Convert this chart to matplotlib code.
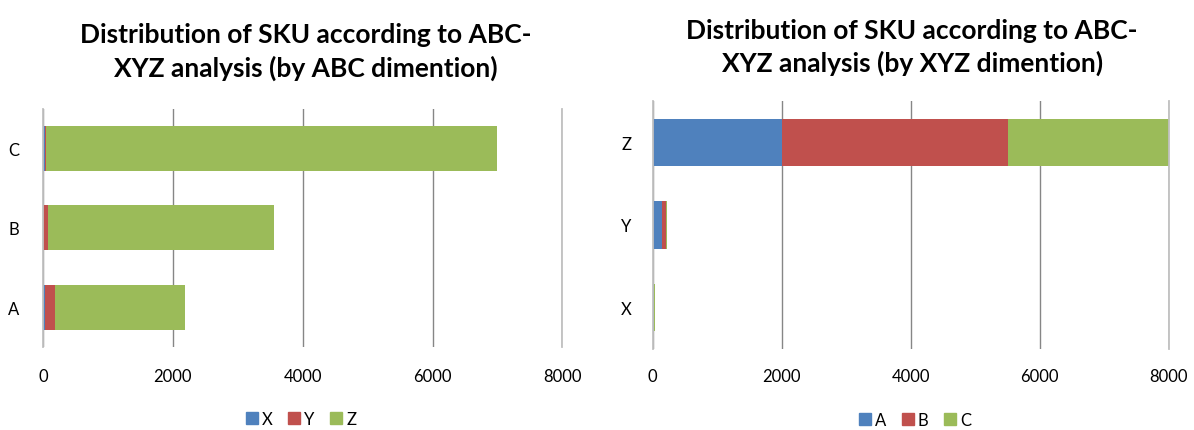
import matplotlib
matplotlib.use("Agg")
import matplotlib.pyplot as plt
from matplotlib.lines import Line2D

plt.rcParams["font.family"] = ["Lato", "DejaVu Sans"]

# SKU counts grouped by ABC class, split by XYZ class
abc_classes = ["A", "B", "C"]
abc_x = [30, 5, 35]
abc_y = [150, 70, 15]
abc_z = [2010, 3485, 6950]

# SKU counts grouped by XYZ class, split by ABC class
xyz_classes = ["X", "Y", "Z"]
xyz_a = [25, 150, 2010]
xyz_b = [0, 62, 3500]
xyz_c = [15, 15, 2510]

x_ticks = [0, 2000, 4000, 6000, 8000]

BLUE = "#4F81BD"
RED = "#C0504D"
GREEN = "#9BBB59"
COLORS = [BLUE, RED, GREEN]

fig = plt.figure(figsize=(11.94, 4.31), dpi=100)


def stacked_barh(ax, cats, series, bar_h):
    left = [0] * len(cats)
    for vals, col in zip(series, COLORS):
        ax.barh(cats, vals, left=left, height=bar_h, color=col,
                linewidth=0, zorder=3)
        left = [l + v for l, v in zip(left, vals)]
    ax.set_xlim(0, 8000)
    ax.set_ylim(-0.5, len(cats) - 0.5)
    ax.set_xticks(x_ticks)
    ax.set_xticklabels([str(t) for t in x_ticks])
    ax.grid(axis="x", color="#868686", linewidth=1.0)
    ax.grid(axis="y", visible=False)
    ax.set_axisbelow(True)
    for s in ["top", "bottom"]:
        ax.spines[s].set_visible(False)
    for s in ["left", "right"]:
        ax.spines[s].set_color("#C0C0C0")
        ax.spines[s].set_linewidth(1.3)
        ax.spines[s].set_zorder(4)
    ax.tick_params(length=0, labelsize=12, colors="#000000")


ax1 = fig.add_axes([0.036, 0.193, 0.435, 0.552])
stacked_barh(ax1, abc_classes, [abc_x, abc_y, abc_z], 0.565)
ax1.tick_params(axis="y", pad=17)
ax1.tick_params(axis="x", pad=15)

ax2 = fig.add_axes([0.5466, 0.188, 0.4324, 0.5754])
stacked_barh(ax2, xyz_classes, [xyz_a, xyz_b, xyz_c], 0.57)
ax2.tick_params(axis="y", pad=15)
ax2.tick_params(axis="x", pad=14)

fig.text(0.256, 0.946, "Distribution of SKU according to ABC-\nXYZ analysis (by ABC dimention)",
         ha="center", va="top", fontsize=19, fontweight="bold", linespacing=1.38)
fig.text(0.764, 0.957, "Distribution of SKU according to ABC-\nXYZ analysis (by XYZ dimention)",
         ha="center", va="top", fontsize=19, fontweight="bold", linespacing=1.38)


def square_handles(labels):
    return [Line2D([], [], marker="s", linestyle="none", markersize=8,
                   markerfacecolor=c, markeredgecolor=c, label=l)
            for c, l in zip(COLORS, labels)]


fig.legend(handles=square_handles(["X", "Y", "Z"]), loc="center",
           bbox_to_anchor=(0.252, 0.025), ncol=3, frameon=False, fontsize=12,
           handletextpad=0.2, columnspacing=0.9, handlelength=0.8)
fig.legend(handles=square_handles(["A", "B", "C"]), loc="center",
           bbox_to_anchor=(0.766, 0.023), ncol=3, frameon=False, fontsize=12,
           handletextpad=0.2, columnspacing=0.9, handlelength=0.8)

fig.savefig("out.png", dpi=100)
